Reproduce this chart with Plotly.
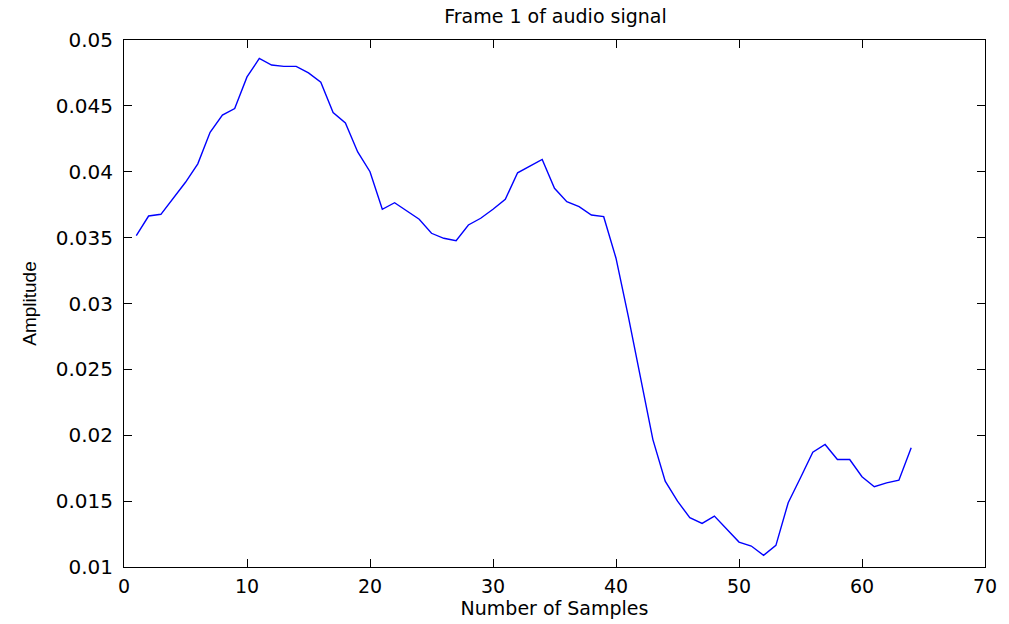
import plotly.graph_objects as go

samples = list(range(1, 65))
amplitude = [
    0.03515, 0.03664, 0.03677, 0.03800, 0.03920, 0.04060, 0.04300, 0.04430,  # 1-8
    0.04480, 0.04720, 0.04860, 0.04810, 0.04800, 0.04800, 0.04750, 0.04680,  # 9-16
    0.04450, 0.04370, 0.04150, 0.04000, 0.03715, 0.03765, 0.03705, 0.03640,  # 17-24
    0.03533, 0.03495, 0.03477, 0.03596, 0.03647, 0.03715, 0.03791, 0.03992,  # 25-32
    0.04043, 0.04094, 0.03874, 0.03773, 0.03735, 0.03672, 0.03659, 0.03344,  # 33-40
    0.02902, 0.02422, 0.01967, 0.01652, 0.01500, 0.01374, 0.01331, 0.01386,  # 41-48
    0.01286, 0.01189, 0.01159, 0.01089, 0.01164, 0.01488, 0.01677, 0.01871,  # 49-56
    0.01930, 0.01816, 0.01816, 0.01685, 0.01609, 0.01639, 0.01659, 0.01905,  # 57-64
]
x_ticks = [0, 10, 20, 30, 40, 50, 60, 70]
y_ticks = [0.01, 0.015, 0.02, 0.025, 0.03, 0.035, 0.04, 0.045, 0.05]
y_tick_labels = ["0.01", "0.015", "0.02", "0.025", "0.03", "0.035", "0.04", "0.045", "0.05"]

fig = go.Figure()
fig.add_trace(go.Scatter(x=samples, y=amplitude, mode="lines",
                         line=dict(color="#0000ff", width=1.4)))

wide = dict(family="DejaVu Sans, Verdana, sans-serif", color="black")
arial = dict(family="Liberation Sans, Arial, sans-serif", color="black")
fig.update_layout(
    width=1009, height=624,
    margin=dict(l=124, r=15, t=40, b=56),
    paper_bgcolor="white", plot_bgcolor="white",
    showlegend=False,
    title=dict(text="Frame 1 of audio signal", x=0.5505, xanchor="center",
               y=0.973, yanchor="middle", font=dict(size=19, **wide)),
    font=dict(size=19, **wide),
    xaxis=dict(range=[0, 70], tickvals=x_ticks, ticks="inside", ticklen=8,
               tickcolor="black", showline=True, linecolor="black", linewidth=1,
               mirror="allticks", showgrid=False, zeroline=False,
               tickfont=dict(size=19, **wide), ticklabelstandoff=2,
               title=dict(text="Number of Samples", font=dict(size=19, **wide), standoff=2)),
    yaxis=dict(range=[0.01, 0.05], tickvals=y_ticks, ticktext=y_tick_labels,
               ticks="inside", ticklen=8, tickcolor="black", showline=True,
               linecolor="black", linewidth=1, mirror="allticks", showgrid=False,
               zeroline=False, tickfont=dict(size=20, **wide), ticklabelstandoff=6,
               title=dict(text="Amplitude", font=dict(size=19, **arial), standoff=14)),
)

fig.write_html("out.html")
